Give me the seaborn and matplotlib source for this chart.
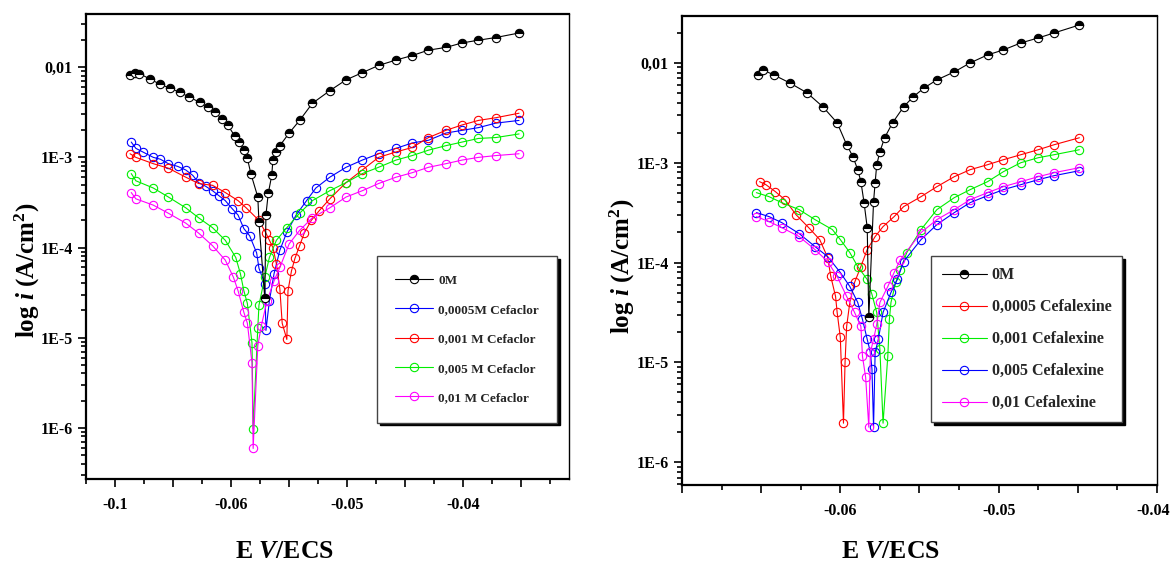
import numpy as np
import matplotlib
matplotlib.use("Agg")
import matplotlib.pyplot as plt
import matplotlib.ticker as mticker
import matplotlib.transforms as mtransforms
import seaborn as sns

# ========================================
# DATA  (E in V/ECS, log10 of i in A/cm2)
# ========================================
# --- left panel : Cefaclor ---
E_L_0M = [-0.0687, -0.0683, -0.0679, -0.0670, -0.0661, -0.0653, -0.0644, -0.0636, -0.0627, -0.0620,
          -0.0614, -0.0608, -0.0603, -0.0597, -0.0593, -0.0589, -0.0586, -0.0583, -0.0577, -0.0576,
          -0.0571, -0.0570, -0.0568, -0.0565, -0.0564, -0.0561, -0.0558, -0.0550, -0.0541, -0.0530,
          -0.0515, -0.0501, -0.0487, -0.0473, -0.0458, -0.0444, -0.0430, -0.0415, -0.0401, -0.0387,
          -0.0372, -0.0352]
LOGI_L_0M = [-2.09, -2.06, -2.07, -2.13, -2.19, -2.23, -2.28, -2.33, -2.39, -2.44,
             -2.50, -2.57, -2.64, -2.76, -2.83, -2.92, -3.01, -3.18, -3.44, -3.72,
             -4.56, -3.64, -3.40, -3.20, -3.03, -2.94, -2.87, -2.73, -2.59, -2.40,
             -2.26, -2.14, -2.06, -1.98, -1.92, -1.87, -1.81, -1.78, -1.73, -1.70,
             -1.67, -1.62]

E_L_0005 = [-0.0686, -0.0682, -0.0676, -0.0667, -0.0661, -0.0654, -0.0646, -0.0639, -0.0633, -0.0628,
            -0.0622, -0.0616, -0.0610, -0.0605, -0.0599, -0.0594, -0.0589, -0.0584, -0.0578, -0.0576,
            -0.0571, -0.0570, -0.0567, -0.0563, -0.0558, -0.0552, -0.0544, -0.0535, -0.0527, -0.0515,
            -0.0501, -0.0487, -0.0473, -0.0458, -0.0444, -0.0430, -0.0415, -0.0401, -0.0387, -0.0372,
            -0.0352]
LOGI_L_0005 = [-2.83, -2.90, -2.94, -3.00, -3.02, -3.07, -3.10, -3.14, -3.20, -3.28,
               -3.32, -3.37, -3.43, -3.48, -3.57, -3.64, -3.79, -3.87, -4.06, -4.23,
               -4.40, -4.92, -4.59, -4.29, -4.03, -3.83, -3.64, -3.48, -3.34, -3.22,
               -3.11, -3.03, -2.96, -2.90, -2.84, -2.81, -2.73, -2.70, -2.67, -2.62,
               -2.59]

E_L_001 = [-0.0687, -0.0682, -0.0667, -0.0654, -0.0639, -0.0628, -0.0616, -0.0605, -0.0594, -0.0587,
           -0.0576, -0.0570, -0.0567, -0.0564, -0.0561, -0.0558, -0.0556, -0.0552, -0.0551, -0.0548,
           -0.0545, -0.0541, -0.0537, -0.0531, -0.0524, -0.0515, -0.0501, -0.0487, -0.0473, -0.0458,
           -0.0444, -0.0430, -0.0415, -0.0401, -0.0387, -0.0372, -0.0352]
LOGI_L_001 = [-2.96, -3.00, -3.07, -3.12, -3.22, -3.29, -3.31, -3.39, -3.48, -3.56,
              -3.70, -3.84, -3.92, -4.00, -4.18, -4.46, -4.84, -5.02, -4.48, -4.26,
              -4.12, -3.98, -3.84, -3.70, -3.59, -3.46, -3.28, -3.14, -3.00, -2.94,
              -2.89, -2.78, -2.70, -2.64, -2.59, -2.56, -2.51]

E_L_005 = [-0.0686, -0.0682, -0.0667, -0.0654, -0.0639, -0.0628, -0.0616, -0.0605, -0.0596, -0.0592,
           -0.0589, -0.0586, -0.0582, -0.0581, -0.0577, -0.0576, -0.0571, -0.0567, -0.0561, -0.0552,
           -0.0541, -0.0530, -0.0515, -0.0501, -0.0487, -0.0473, -0.0458, -0.0444, -0.0430, -0.0415,
           -0.0401, -0.0387, -0.0372, -0.0352]
LOGI_L_005 = [-3.18, -3.26, -3.34, -3.44, -3.56, -3.67, -3.78, -3.92, -4.11, -4.29,
              -4.48, -4.62, -5.06, -6.01, -4.89, -4.64, -4.33, -4.11, -3.92, -3.78,
              -3.62, -3.48, -3.37, -3.28, -3.18, -3.11, -3.03, -2.98, -2.92, -2.87,
              -2.83, -2.79, -2.78, -2.74]

E_L_01 = [-0.0686, -0.0682, -0.0667, -0.0654, -0.0639, -0.0628, -0.0616, -0.0605, -0.0598, -0.0594,
          -0.0589, -0.0586, -0.0582, -0.0581, -0.0577, -0.0574, -0.0569, -0.0563, -0.0558, -0.0550,
          -0.0541, -0.0530, -0.0515, -0.0501, -0.0487, -0.0473, -0.0458, -0.0444, -0.0430, -0.0415,
          -0.0401, -0.0387, -0.0372, -0.0352]
LOGI_L_01 = [-3.39, -3.46, -3.53, -3.62, -3.73, -3.84, -3.98, -4.14, -4.33, -4.48,
             -4.72, -4.84, -5.28, -6.23, -5.09, -4.87, -4.59, -4.37, -4.22, -3.96,
             -3.81, -3.67, -3.56, -3.44, -3.37, -3.29, -3.22, -3.17, -3.11, -3.07,
             -3.03, -3.00, -2.98, -2.96]

# --- right panel : Cefalexine ---
E_R_0M = [-0.0652, -0.0649, -0.0642, -0.0632, -0.0621, -0.0611, -0.0602, -0.0596, -0.0592, -0.0589,
          -0.0587, -0.0585, -0.0583, -0.0582, -0.0579, -0.0578, -0.0577, -0.0575, -0.0572, -0.0567,
          -0.0560, -0.0554, -0.0547, -0.0539, -0.0528, -0.0518, -0.0507, -0.0497, -0.0486, -0.0475,
          -0.0465, -0.0449]
LOGI_R_0M = [-2.12, -2.07, -2.12, -2.20, -2.30, -2.44, -2.60, -2.82, -2.94, -3.07,
             -3.19, -3.40, -3.65, -4.55, -3.39, -3.20, -3.02, -2.89, -2.75, -2.60,
             -2.44, -2.34, -2.25, -2.17, -2.09, -2.00, -1.92, -1.87, -1.80, -1.75,
             -1.70, -1.62]

E_R_0005 = [-0.0651, -0.0647, -0.0641, -0.0635, -0.0628, -0.0620, -0.0613, -0.0608, -0.0606, -0.0603,
            -0.0602, -0.0600, -0.0598, -0.0597, -0.0596, -0.0594, -0.0591, -0.0587, -0.0583, -0.0578,
            -0.0573, -0.0566, -0.0560, -0.0549, -0.0539, -0.0528, -0.0518, -0.0507, -0.0497, -0.0486,
            -0.0475, -0.0465, -0.0449]
LOGI_R_0005 = [-3.19, -3.22, -3.29, -3.37, -3.52, -3.65, -3.77, -3.95, -4.14, -4.34,
               -4.50, -4.75, -5.61, -5.00, -4.64, -4.40, -4.20, -4.04, -3.87, -3.74,
               -3.64, -3.54, -3.44, -3.34, -3.24, -3.14, -3.07, -3.02, -2.97, -2.92,
               -2.87, -2.82, -2.75]

E_R_001 = [-0.0653, -0.0645, -0.0637, -0.0626, -0.0616, -0.0605, -0.0600, -0.0594, -0.0589, -0.0583,
           -0.0580, -0.0577, -0.0575, -0.0573, -0.0570, -0.0569, -0.0568, -0.0565, -0.0562, -0.0558,
           -0.0549, -0.0539, -0.0528, -0.0518, -0.0507, -0.0497, -0.0486, -0.0475, -0.0465, -0.0449]
LOGI_R_001 = [-3.30, -3.34, -3.40, -3.47, -3.57, -3.67, -3.77, -3.90, -4.04, -4.17,
              -4.32, -4.50, -4.87, -5.61, -4.94, -4.57, -4.40, -4.20, -4.07, -3.90,
              -3.67, -3.47, -3.35, -3.27, -3.19, -3.09, -3.00, -2.95, -2.92, -2.87]

E_R_005 = [-0.0653, -0.0645, -0.0637, -0.0626, -0.0616, -0.0608, -0.0600, -0.0594, -0.0589, -0.0586,
           -0.0583, -0.0581, -0.0580, -0.0579, -0.0578, -0.0576, -0.0573, -0.0568, -0.0564, -0.0560,
           -0.0549, -0.0539, -0.0528, -0.0518, -0.0507, -0.0497, -0.0486, -0.0475, -0.0465, -0.0449]
LOGI_R_005 = [-3.50, -3.54, -3.60, -3.71, -3.84, -3.94, -4.10, -4.24, -4.40, -4.57,
              -4.77, -4.90, -5.07, -5.65, -4.90, -4.77, -4.50, -4.30, -4.17, -3.99,
              -3.77, -3.62, -3.50, -3.40, -3.33, -3.27, -3.22, -3.17, -3.13, -3.08]

E_R_01 = [-0.0653, -0.0645, -0.0637, -0.0626, -0.0616, -0.0608, -0.0602, -0.0596, -0.0591, -0.0587,
          -0.0586, -0.0584, -0.0582, -0.0581, -0.0579, -0.0577, -0.0575, -0.0570, -0.0566, -0.0562,
          -0.0549, -0.0539, -0.0528, -0.0518, -0.0507, -0.0497, -0.0486, -0.0475, -0.0465, -0.0449]
LOGI_R_01 = [-3.54, -3.59, -3.65, -3.74, -3.87, -3.99, -4.14, -4.34, -4.50, -4.64,
             -4.94, -5.15, -5.65, -4.90, -4.77, -4.62, -4.40, -4.24, -4.10, -3.97,
             -3.70, -3.57, -3.47, -3.37, -3.30, -3.24, -3.19, -3.14, -3.10, -3.05]

LEFT_LABELS = ["0M", "0,0005M Cefaclor", "0,001 M Cefaclor", "0,005 M Cefaclor", "0,01 M Cefaclor"]
RIGHT_LABELS = ["0M", "0,0005 Cefalexine", "0,001 Cefalexine", "0,005 Cefalexine", "0,01 Cefalexine"]

Y_TICKS = [1e-6, 1e-5, 1e-4, 1e-3, 1e-2]
Y_TICK_LABELS = ["1E-6", "1E-5", "1E-4", "1E-3", "0,01"]
X_TICKS = [-0.07, -0.065, -0.06, -0.055, -0.05, -0.045, -0.04, -0.035]
X_TICK_LABELS_L = ["-0.1", "", "-0.06", "", "-0.05", "", "-0.04", ""]
X_TICK_LABELS_R = ["", "", "-0.06", "", "-0.05", "", "-0.04", ""]

# ========================================
# STYLE
# ========================================
sns.set_style("ticks")
plt.rcParams["font.family"] = ["Liberation Serif", "DejaVu Serif"]
plt.rcParams["font.weight"] = "bold"
plt.rcParams["mathtext.fontset"] = "custom"
plt.rcParams["mathtext.rm"] = "Liberation Serif:bold"
plt.rcParams["mathtext.it"] = "Liberation Serif:italic:bold"
plt.rcParams["mathtext.bf"] = "Liberation Serif:bold"

BLUE, RED, GREEN, MAGENTA = "#0000ff", "#ff0000", "#00ee00", "#ff00ff"


def draw_series(ax, E, logi, color, label, black=False):
    i = 10 ** np.asarray(logi)
    if black:
        kw = dict(fillstyle="top", markerfacecolor="k", markerfacecoloralt="white",
                  markeredgecolor="k", zorder=5)
    else:
        kw = dict(markerfacecolor="none", markeredgecolor=color, zorder=3)
    sns.lineplot(x=E, y=i, ax=ax, color=color, sort=False, estimator=None, label=label,
                 marker="o", ms=6, mew=0.8, lw=0.8, **kw)


def style_axes(ax, xlim, ylim, xlabels):
    ax.set_yscale("log")
    ax.set_xlim(*xlim)
    ax.set_ylim(*ylim)
    ax.yaxis.set_major_locator(mticker.FixedLocator(Y_TICKS))
    ax.yaxis.set_major_formatter(mticker.FixedFormatter(Y_TICK_LABELS))
    ax.yaxis.set_minor_locator(mticker.LogLocator(base=10, subs=np.arange(2, 10), numticks=20))
    ax.yaxis.set_minor_formatter(mticker.NullFormatter())
    ax.xaxis.set_major_locator(mticker.FixedLocator(X_TICKS))
    ax.xaxis.set_major_formatter(mticker.FixedFormatter(xlabels))
    ax.xaxis.set_minor_locator(mticker.MultipleLocator(0.0025))
    ax.tick_params(which="both", direction="out", width=1.2, labelsize=11.5, colors="k")
    ax.tick_params(which="major", length=6)
    ax.tick_params(which="minor", length=3.5)
    ax.tick_params(axis="x", pad=7)
    ax.tick_params(axis="y", pad=3.5)
    for side in ["left", "bottom", "top"]:
        ax.spines[side].set_linewidth(1.6)
        ax.spines[side].set_color("k")
    ax.spines["right"].set_linewidth(1.0)
    ax.spines["right"].set_color("k")


fig = plt.figure(figsize=(11.71, 5.66), dpi=100)
axL = fig.add_axes([0.0734, 0.1537, 0.4125, 0.8216])
axR = fig.add_axes([0.5824, 0.1431, 0.4056, 0.8286])

# left panel
draw_series(axL, E_L_0M, LOGI_L_0M, "k", LEFT_LABELS[0], black=True)
draw_series(axL, E_L_0005, LOGI_L_0005, BLUE, LEFT_LABELS[1])
draw_series(axL, E_L_001, LOGI_L_001, RED, LEFT_LABELS[2])
draw_series(axL, E_L_005, LOGI_L_005, GREEN, LEFT_LABELS[3])
draw_series(axL, E_L_01, LOGI_L_01, MAGENTA, LEFT_LABELS[4])
style_axes(axL, (-0.0725, -0.0309), (2.7e-7, 0.039), X_TICK_LABELS_L)

# right panel
draw_series(axR, E_R_0M, LOGI_R_0M, "k", RIGHT_LABELS[0], black=True)
draw_series(axR, E_R_0005, LOGI_R_0005, RED, RIGHT_LABELS[1])
draw_series(axR, E_R_001, LOGI_R_001, GREEN, RIGHT_LABELS[2])
draw_series(axR, E_R_005, LOGI_R_005, BLUE, RIGHT_LABELS[3])
draw_series(axR, E_R_01, LOGI_R_01, MAGENTA, RIGHT_LABELS[4])
style_axes(axR, (-0.07, -0.04), (5.9e-7, 0.0295), X_TICK_LABELS_R)

# nudge the last right-panel tick label so it stays on the canvas
fig.canvas.draw()
lbl = axR.xaxis.get_majorticklabels()[6]
lbl.set_transform(lbl.get_transform() + mtransforms.ScaledTranslation(-4 / 100, 0, fig.dpi_scale_trans))

# axis labels
ylab = r"log $\mathit{i}$ (A/cm$^{2}$)"
xlab = r"E $\mathit{V}$/ECS"
for ax, xc, yc, xx, xy in [(axL, -0.122, 0.449, 0.41, -0.155), (axR, -0.126, 0.467, 0.438, -0.141)]:
    ax.set_ylabel(ylab, fontsize=18, fontweight="bold", va="center", ha="center", color="k")
    ax.yaxis.set_label_coords(xc, yc)
    ax.set_xlabel(xlab, fontsize=18.5, fontweight="bold", va="center", ha="center", color="k")
    ax.xaxis.set_label_coords(xx, xy)

# legends
shadow = {"color": "k", "alpha": 1.0}
legL = axL.legend(loc="upper left", bbox_to_anchor=(0.602, 0.480), fontsize=9.5,
                  handlelength=2.9, handletextpad=0.35, labelspacing=1.3, borderpad=1.4,
                  borderaxespad=0, fancybox=False, framealpha=1, shadow=shadow, edgecolor="#444444")
legL.get_frame().set_linewidth(1.0)
legR = axR.legend(loc="upper left", bbox_to_anchor=(0.524, 0.488), fontsize=11.5,
                  handlelength=2.8, handletextpad=0.3, labelspacing=1.0, borderpad=0.7,
                  borderaxespad=0, fancybox=False, framealpha=1, shadow=shadow, edgecolor="#444444")
legR.get_frame().set_linewidth(1.0)

fig.savefig("out.png", dpi=100)
